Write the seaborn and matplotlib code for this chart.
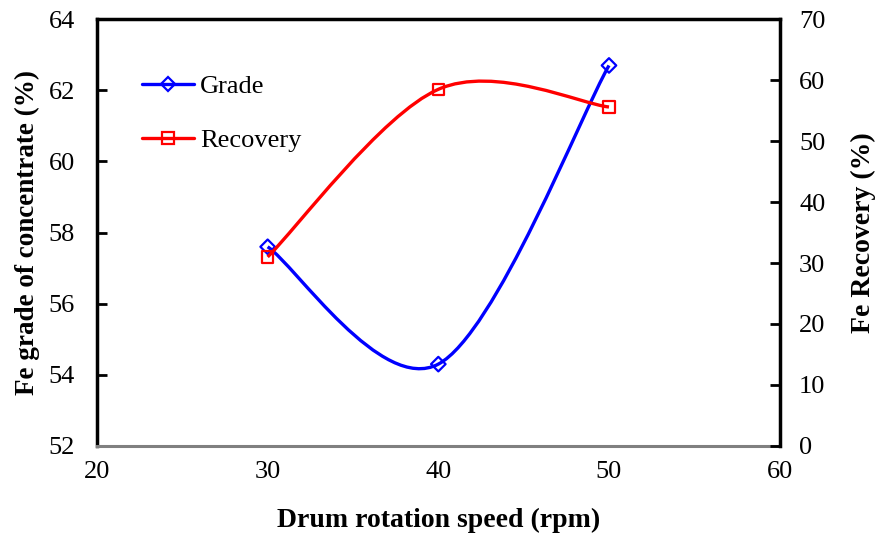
import numpy as np
import matplotlib
matplotlib.use("Agg")
import matplotlib.pyplot as plt
from matplotlib.path import Path
from matplotlib.patches import PathPatch
from matplotlib.lines import Line2D
import seaborn as sns

# data
speed = [30, 40, 50]
grade = [57.6, 54.3, 62.7]
recovery = [31.0, 58.5, 55.6]

BLUE = "#0000ff"
RED = "#ff0000"


def smooth_path(x, y):
    # excel-like smoothed line: catmull-rom segments drawn as cubic beziers
    pts = np.column_stack([x, y]).astype(float)
    ext = np.vstack([pts[0], pts, pts[-1]])
    verts = [pts[0]]
    codes = [Path.MOVETO]
    for i in range(1, len(ext) - 2):
        p0, p1, p2, p3 = ext[i - 1], ext[i], ext[i + 1], ext[i + 2]
        verts += [p1 + (p2 - p0) / 6, p2 - (p3 - p1) / 6, p2]
        codes += [Path.CURVE4] * 3
    return Path(verts, codes)


sns.set_style("white")
plt.rcParams["font.family"] = ["Liberation Serif", "DejaVu Serif"]
plt.rcParams["text.color"] = "black"
plt.rcParams["axes.labelcolor"] = "black"

fig, ax = plt.subplots(figsize=(8.77, 5.34), dpi=100)
fig.subplots_adjust(left=0.1106, right=0.889, bottom=0.165, top=0.964)
ax2 = ax.twinx()

# grade on left axis
ax.add_patch(PathPatch(smooth_path(speed, grade), fill=False, edgecolor=BLUE, lw=2.4))
sns.scatterplot(x=speed, y=grade, ax=ax, marker="D", s=55, facecolor="none",
                edgecolor=BLUE, linewidth=1.6, zorder=3)

# recovery on right axis
ax2.add_patch(PathPatch(smooth_path(speed, recovery), fill=False, edgecolor=RED, lw=2.4))
sns.scatterplot(x=speed, y=recovery, ax=ax2, marker="s", s=70, facecolor="none",
                edgecolor=RED, linewidth=1.6, zorder=3)

ax.set_xlim(20, 60)
ax.set_xticks([20, 30, 40, 50, 60])
ax.set_ylim(52, 64)
ax.set_yticks(np.arange(52, 65, 2))
ax2.set_ylim(0, 70)
ax2.set_yticks(np.arange(0, 71, 10))

for s in ["left", "top"]:
    ax.spines[s].set_color("black")
    ax.spines[s].set_linewidth(2.5)
ax.spines["bottom"].set_color("#808080")
ax.spines["bottom"].set_linewidth(2.2)
ax.spines["right"].set_visible(False)
for s in ["left", "top", "bottom"]:
    ax2.spines[s].set_visible(False)
ax2.spines["right"].set_color("black")
ax2.spines["right"].set_linewidth(2.5)

ax.tick_params(axis="x", direction="in", length=7, width=1.5, color="#808080",
               labelcolor="black", labelsize=19, pad=11)
ax.tick_params(axis="y", direction="in", length=7, width=2, color="black",
               labelcolor="black", labelsize=19, pad=16)
ax2.tick_params(axis="y", direction="in", length=7, width=2, color="black",
                labelcolor="black", labelsize=19, pad=14)

ax.set_xlabel("Drum rotation speed (rpm)", fontsize=20, fontweight="bold")
ax.set_ylabel("Fe grade of concentrate (%)", fontsize=19.5, fontweight="bold")
ax2.set_ylabel("Fe Recovery (%)", fontsize=20, fontweight="bold")
ax.xaxis.set_label_coords(0.5, -0.145)
ax.yaxis.set_label_coords(-0.083, 0.5)
ax2.yaxis.set_label_coords(1.105, 0.5)

handles = [
    Line2D([], [], color=BLUE, lw=2.4, marker="D", markersize=7,
           markerfacecolor="none", markeredgewidth=1.6),
    Line2D([], [], color=RED, lw=2.4, marker="s", markersize=8,
           markerfacecolor="none", markeredgewidth=1.6),
]
ax.legend(handles, ["Grade", "Recovery"], loc="upper left",
          bbox_to_anchor=(0.05, 0.895), frameon=False, fontsize=19,
          handlelength=2.0, handletextpad=0.2, labelspacing=1.15,
          borderaxespad=0)

fig.savefig("out.png", dpi=100)
